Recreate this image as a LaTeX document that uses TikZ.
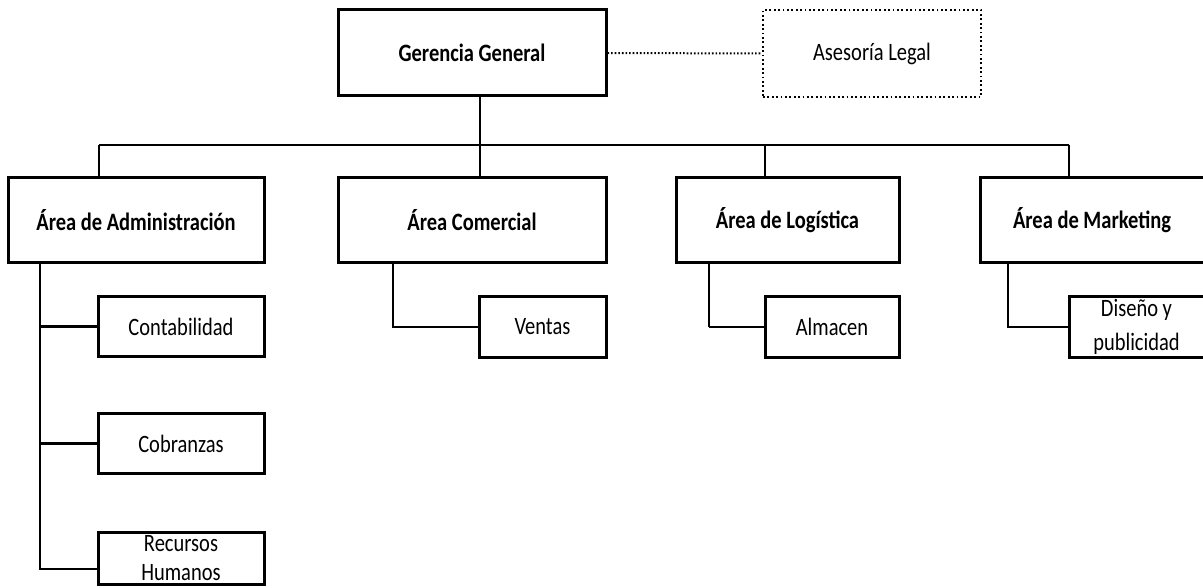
\documentclass[tikz,border=0pt]{standalone}
\usepackage{fontspec}
\setmainfont{Carlito}
\usepackage{graphicx}
\newcommand{\tx}[1]{\scalebox{1}[1.22]{#1}}
\tikzset{
  box/.style={draw=black, line width=3pt, rectangle, inner sep=0pt, minimum height=60pt, align=center,
              font=\fontsize{20.5}{34}\selectfont},
  areabox/.style={box, minimum height=85pt, font=\fontsize{20.5}{34}\selectfont\bfseries},
  legalbox/.style={box, line width=2.4pt, dash pattern=on 1.8pt off 2.6pt, minimum height=87pt},
  mainline/.style={line width=1.4pt},
  subline/.style={line width=2.6pt},
  dotline/.style={line width=2pt, dash pattern=on 1.6pt off 2pt}
}
\begin{document}
\begin{tikzpicture}[x=1pt,y=-1pt]
\useasboundingbox (0,0) rectangle (1203,588);
\clip (0,0) rectangle (1203,588);

% top level
\node[areabox, minimum width=268pt, minimum height=86pt] (gg) at (472,53) {\tx{Gerencia General}};
\node[legalbox, minimum width=218pt] (al) at (872,53.5) {\tx{Asesoría Legal}};
\draw[dotline] (gg.east) -- (al.west);

% areas
\node[areabox, minimum width=256pt] (adm) at (136,220.5) {\tx{Área de Administración}};
\node[areabox, minimum width=268pt] (com) at (472,220.5) {\tx{Área Comercial}};
\node[areabox, minimum width=223pt] (log) at (787.5,220.5) {\tx{Área de Logística}};
\node[areabox, minimum width=224pt] (mkt) at (1092,220.5) {\tx{Área de Marketing}};

% sub units
\node[box, minimum width=166pt] (cont) at (181,326.5) {\tx{Contabilidad}};
\node[box, minimum width=166pt] (cob) at (181,443.5) {\tx{Cobranzas}};
\node[box, minimum width=166pt, minimum height=52pt, font=\fontsize{20.5}{29}\selectfont] (rrhh) at (181,558) {\tx{Recursos}\\\tx{Humanos}};
\node[box, minimum width=127pt] (vent) at (542.5,327) {\tx{Ventas}};
\node[box, minimum width=134pt] (alm) at (832,327) {\tx{Almacen}};
\node[box, minimum width=135pt] (dis) at (1136.5,327) {\tx{Diseño y}\\\tx{publicidad}};

% bus coordinates
\coordinate (xa) at (99,145);
\coordinate (xc) at (480,145);
\coordinate (xl) at (765,145);
\coordinate (xm) at (1069,145);

\draw[mainline] (xa) -- (xm);
\draw[mainline] (xc |- gg.south) -- (xc |- com.north);
\draw[mainline] (xa) -- (xa |- adm.north);
\draw[subline] (xl) -- (xl |- log.north);
\draw[mainline] (xm) -- (xm |- mkt.north);

% sub connectors
\coordinate (sa) at (40,0);
\coordinate (sc) at (393,0);
\coordinate (sl) at (709,0);
\coordinate (sm) at (1008,0);
\coordinate (rr) at (0,569);

\draw[mainline] (sa |- adm.south) -- (sa |- rr) -- (rr -| rrhh.west);
\draw[subline] (sa |- cont.west) -- (cont.west);
\draw[subline] (sa |- cob.west) -- (cob.west);
\draw[subline] (sc |- com.south) -- (sc |- vent.west) -- (vent.west);
\draw[mainline] (sl |- log.south) -- (sl |- alm.west);
\draw[subline] (sl |- alm.west) -- (alm.west);
\draw[subline] (sm |- mkt.south) -- (sm |- dis.west) -- (dis.west);
\end{tikzpicture}
\end{document}
